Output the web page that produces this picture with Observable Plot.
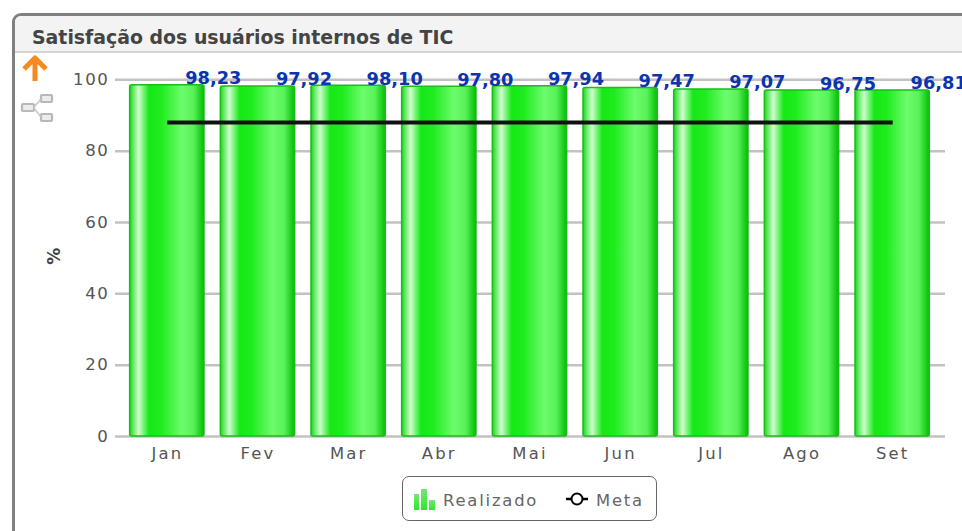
<!DOCTYPE html>
<html lang="pt">
<head>
<meta charset="utf-8">
<script src="https://cdn.jsdelivr.net/npm/d3@7"></script>
<script src="https://cdn.jsdelivr.net/npm/@observablehq/plot@0.6"></script>
<style>
html,body{margin:0;padding:0;background:#fff;overflow:hidden;width:962px;height:531px;font-family:"DejaVu Sans",sans-serif}
#frame{position:absolute;left:12px;top:13px;width:980px;height:560px;border:3px solid #808080;border-radius:9px;box-sizing:border-box}
#head{position:absolute;left:0;top:0;right:0;height:35px;background:#f3f3f3;border-bottom:2px solid #d4d4d4;box-sizing:content-box;border-radius:6px 0 0 0}
#title{position:absolute;left:32px;top:24px;font-weight:bold;font-size:18.9px;line-height:26px;color:#444;white-space:nowrap}
#chart{position:absolute;left:0;top:0}
#chart svg{overflow:hidden;background:transparent}
#chart g[aria-label="y-axis tick label"] text{letter-spacing:1.6px}
#chart g[aria-label="x-axis tick label"] text{letter-spacing:2.2px}
#icons{position:absolute;left:18px;top:54px}
#legend{position:absolute;left:402px;top:476px;width:255px;height:45px;box-sizing:border-box;border:1px solid #666;border-radius:7px;background:#fff;color:#666;font-size:16.4px;letter-spacing:1.8px}
#legend svg{position:absolute}
#legend span{position:absolute;top:13.5px;line-height:20px}
</style>
</head>
<body>
<div id="frame"><div id="head"></div></div>
<div id="title">Satisfação dos usuários internos de TIC</div>
<div id="chart"></div>
<svg id="icons" width="40" height="70" viewBox="0 0 40 70">
  <path d="M17 27V7M6 15L17 4L28 15" fill="none" stroke="#f58a1f" stroke-width="5" stroke-linejoin="round"/>
  <g fill="#ececec" stroke="#b8b8b8" stroke-width="2.2">
    <rect x="4" y="50" width="12" height="7" rx="1"/><rect x="23" y="41" width="11" height="7" rx="1"/><rect x="23" y="60" width="11" height="7" rx="1"/>
  </g>
  <path d="M16 53L23 45M16 54L23 63" stroke="#c8c8c8" stroke-width="1.5" fill="none"/>
</svg>
<div id="legend">
  <svg style="left:10px;top:11px" width="24" height="22" viewBox="0 0 24 22">
    <defs><linearGradient id="lg" x1="0" x2="0" y1="0" y2="1"><stop offset="0" stop-color="#7ce07c"/><stop offset="1" stop-color="#22f022"/></linearGradient></defs>
    <rect x="1" y="6" width="5" height="16" fill="url(#lg)"/><rect x="8" y="1" width="6" height="21" fill="url(#lg)"/><rect x="16" y="12" width="6" height="10" fill="url(#lg)"/>
  </svg>
  <span style="left:40px">Realizado</span>
  <svg style="left:162px;top:13px" width="24" height="18" viewBox="0 0 24 18">
    <path d="M1 9H23" stroke="#000" stroke-width="2.5"/><circle cx="12" cy="9" r="5.5" fill="#fff" stroke="#000" stroke-width="2"/>
  </svg>
  <span style="left:193px">Meta</span>
</div>
<script>
const meses = ["Jan","Fev","Mar","Abr","Mai","Jun","Jul","Ago","Set"];
const realizado = [98.23,97.92,98.10,97.80,97.94,97.47,97.07,96.75,96.81];
const meta = [88,88,88,88,88,88,88,88,88];
const rotulos = ["98,23","97,92","98,10","97,80","97,94","97,47","97,07","96,75","96,81"];
const yTicks = [0,20,40,60,80,100];

const barras = meses.map((mes,i)=>({mes,valor:realizado[i],rotulo:rotulos[i],meta:meta[i]}));

const gradiente = () => {
  const defs = d3.create("svg:defs");
  const g = defs.append("linearGradient").attr("id","barra").attr("x1",0).attr("x2",1).attr("y1",0).attr("y2",0);
  [[0,"#22d522"],[0.04,"#55e855"],[0.12,"#d0ffd0"],[0.26,"#16e816"],[0.42,"#1eec1e"],[0.7,"#6cfc6c"],[0.86,"#58f258"],[0.97,"#14c914"],[1,"#12b812"]]
    .forEach(([o,c])=>g.append("stop").attr("offset",o).attr("stop-color",c));
  return defs.node();
};

const chart = Plot.plot({
  width: 962,
  height: 475,
  marginLeft: 115,
  marginRight: 17,
  marginTop: 40,
  marginBottom: 39,
  style: {background:"transparent", fontFamily:"'DejaVu Sans',sans-serif"},
  x: {type:"band", domain: meses, range:[121.5,937.5], round:false, paddingInner:0.18, paddingOuter:0.09, label:null},
  y: {domain:[0,100], range:[436,79.3], label:null},
  marks: [
    gradiente,
    Plot.ruleY(yTicks,{stroke:"#c2c2c2",strokeWidth:2.5}),
    Plot.barY(barras,{x:"mes",y:"valor",fill:"url(#barra)",stroke:"#1dbb1d",strokeWidth:1.5,rx:2,insetTop:-0.8}),
    Plot.lineY(barras,{x:"mes",y:"meta",stroke:"#111",strokeWidth:4,strokeLinecap:"butt",curve:"linear"}),
    Plot.text(barras,{x:"mes",y:"valor",text:"rotulo",dx:46,dy:-7.5,fontSize:17.8,fontWeight:"bold",fill:"#0a35ae",textAnchor:"middle"}),
    Plot.axisY({ticks:yTicks,tickSize:0,tickPadding:6,marginLeft:115,fontSize:16.6,fill:"#555",label:null}),
    Plot.axisX({tickSize:0,tickPadding:11,fontSize:16.4,fill:"#555",label:null}),
    Plot.text(["%"],{frameAnchor:"left",dx:-61,y:()=>50,dy:-2,rotate:-90,fontSize:17,fontWeight:"bold",fill:"#444",textAnchor:"middle"})
  ]
});
document.getElementById("chart").appendChild(chart);
</script>
</body>
</html>
